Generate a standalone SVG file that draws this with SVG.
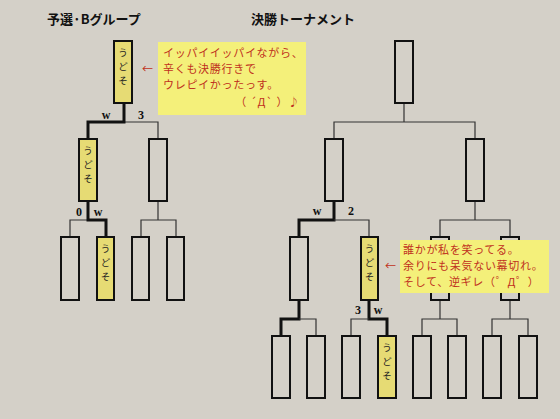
<svg xmlns="http://www.w3.org/2000/svg" width="560" height="419" viewBox="0 0 560 419">
<style>
.bx{fill:none;stroke:#111;stroke-width:2}
.win{fill:#e6db74;stroke:#111;stroke-width:2}
.thin{fill:none;stroke:#333;stroke-width:1.2}
.thick{fill:none;stroke:#111;stroke-width:3}
.nm{font-family:"Noto Sans CJK JP",sans-serif;font-size:9.5px;fill:#222;text-anchor:middle}
.ttl{font-family:"Noto Sans CJK JP",sans-serif;font-size:13px;font-weight:bold;fill:#111}
.sc{font-family:"Liberation Serif",serif;font-size:12px;font-weight:bold;fill:#111;text-anchor:middle}
.note{fill:#f4f07a}
.nt{font-family:"Noto Sans CJK JP",sans-serif;font-size:11px;letter-spacing:0.7px;fill:#c03020}
</style>
<rect width="560" height="419" fill="#d4d0c8"/>
<text class="ttl" x="47" y="24">予選·Bグループ</text>
<text class="ttl" x="251" y="24">決勝トーナメント</text>

<g id="connectors">
<path class="thin" d="M124,122 H158 V139"/>
<path class="thick" d="M124,103 V122 H88 V139"/>
<path class="thin" d="M88,201 V220 H70 V237"/>
<path class="thick" d="M88,201 V220 H106 V237"/>
<path class="thin" d="M158,201 V220 M141,237 V220 H176 V237"/>
<path class="thin" d="M404,103 V122 M334,139 V122 H475 V139"/>
<path class="thick" d="M334,201 V220 H299 V237"/>
<path class="thin" d="M334,220 H369 V237"/>
<path class="thin" d="M475,201 V220 M440,237 V220 H510 V237"/>
<path class="thick" d="M299,300 V319 H281 V336"/>
<path class="thin" d="M299,319 H316 V336"/>
<path class="thick" d="M369,300 V319 H387 V336"/>
<path class="thin" d="M369,319 H351 V336"/>
<path class="thin" d="M440,300 V319 M422,336 V319 H457 V336"/>
<path class="thin" d="M510,300 V319 M492,336 V319 H528 V336"/>
</g>

<g id="lb-final"><rect class="win" x="114" y="41" width="18" height="62"/><text class="nm" x="123" y="56">う</text><text class="nm" x="123" y="70">ど</text><text class="nm" x="123" y="84">そ</text></g>
<g id="lb-s1"><rect class="win" x="79" y="139" width="18" height="62"/><text class="nm" x="88" y="154">う</text><text class="nm" x="88" y="168">ど</text><text class="nm" x="88" y="182">そ</text></g>
<g id="lb-s2"><rect class="bx" x="149" y="139" width="18" height="62"/></g>
<g id="lb-q1"><rect class="bx" x="61" y="237" width="18" height="63"/></g>
<g id="lb-q2"><rect class="win" x="97" y="237" width="17" height="63"/><text class="nm" x="105.5" y="252">う</text><text class="nm" x="105.5" y="266">ど</text><text class="nm" x="105.5" y="280">そ</text></g>
<g id="lb-q3"><rect class="bx" x="132" y="237" width="17" height="63"/></g>
<g id="lb-q4"><rect class="bx" x="167" y="237" width="17" height="63"/></g>

<g id="rb-final"><rect class="bx" x="395" y="41" width="18" height="62"/></g>
<g id="rb-s1"><rect class="bx" x="325" y="139" width="18" height="62"/></g>
<g id="rb-s2"><rect class="bx" x="466" y="139" width="18" height="62"/></g>
<g id="rb-q1"><rect class="bx" x="290" y="237" width="18" height="63"/></g>
<g id="rb-q2"><rect class="win" x="361" y="237" width="17" height="63"/><text class="nm" x="369.5" y="252">う</text><text class="nm" x="369.5" y="266">ど</text><text class="nm" x="369.5" y="280">そ</text></g>
<g id="rb-q3"><rect class="bx" x="431" y="237" width="18" height="63"/></g>
<g id="rb-q4"><rect class="bx" x="501" y="237" width="18" height="63"/></g>
<g id="rb-r1"><rect class="bx" x="272" y="336" width="18" height="62"/></g>
<g id="rb-r2"><rect class="bx" x="307" y="336" width="18" height="62"/></g>
<g id="rb-r3"><rect class="bx" x="342" y="336" width="18" height="62"/></g>
<g id="rb-r4"><rect class="win" x="378" y="336" width="18" height="62"/><text class="nm" x="387" y="351">う</text><text class="nm" x="387" y="365">ど</text><text class="nm" x="387" y="379">そ</text></g>
<g id="rb-r5"><rect class="bx" x="413" y="336" width="18" height="62"/></g>
<g id="rb-r6"><rect class="bx" x="448" y="336" width="18" height="62"/></g>
<g id="rb-r7"><rect class="bx" x="483" y="336" width="18" height="62"/></g>
<g id="rb-r8"><rect class="bx" x="519" y="336" width="18" height="62"/></g>

<g id="scores">
<text class="sc" x="106" y="119">w</text><text class="sc" x="141" y="119">3</text>
<text class="sc" x="79" y="216">0</text><text class="sc" x="98" y="216">w</text>
<text class="sc" x="317" y="215">w</text><text class="sc" x="351" y="215">2</text>
<text class="sc" x="358" y="314">3</text><text class="sc" x="378" y="314">w</text>
</g>

<g id="note1">
<rect class="note" x="158" y="42" width="148" height="73"/>
<text class="nt" x="142" y="73">←</text>
<text class="nt" x="163" y="57">イッパイイッパイながら、</text>
<text class="nt" x="163" y="73">辛くも決勝行きで</text>
<text class="nt" x="163" y="89">ウレピイかったっす。</text>
<text class="nt" x="300" y="106" text-anchor="end">（ ´Д` ）♪</text>
</g>
<g id="note2">
<rect class="note" x="400" y="240" width="149" height="53"/>
<text class="nt" x="385" y="270">←</text>
<text class="nt" x="403" y="254">誰かが私を笑ってる。</text>
<text class="nt" x="403" y="270">余りにも呆気ない幕切れ。</text>
<text class="nt" x="403" y="286">そして、逆ギレ（゜Д゜）</text>
</g>
</svg>
